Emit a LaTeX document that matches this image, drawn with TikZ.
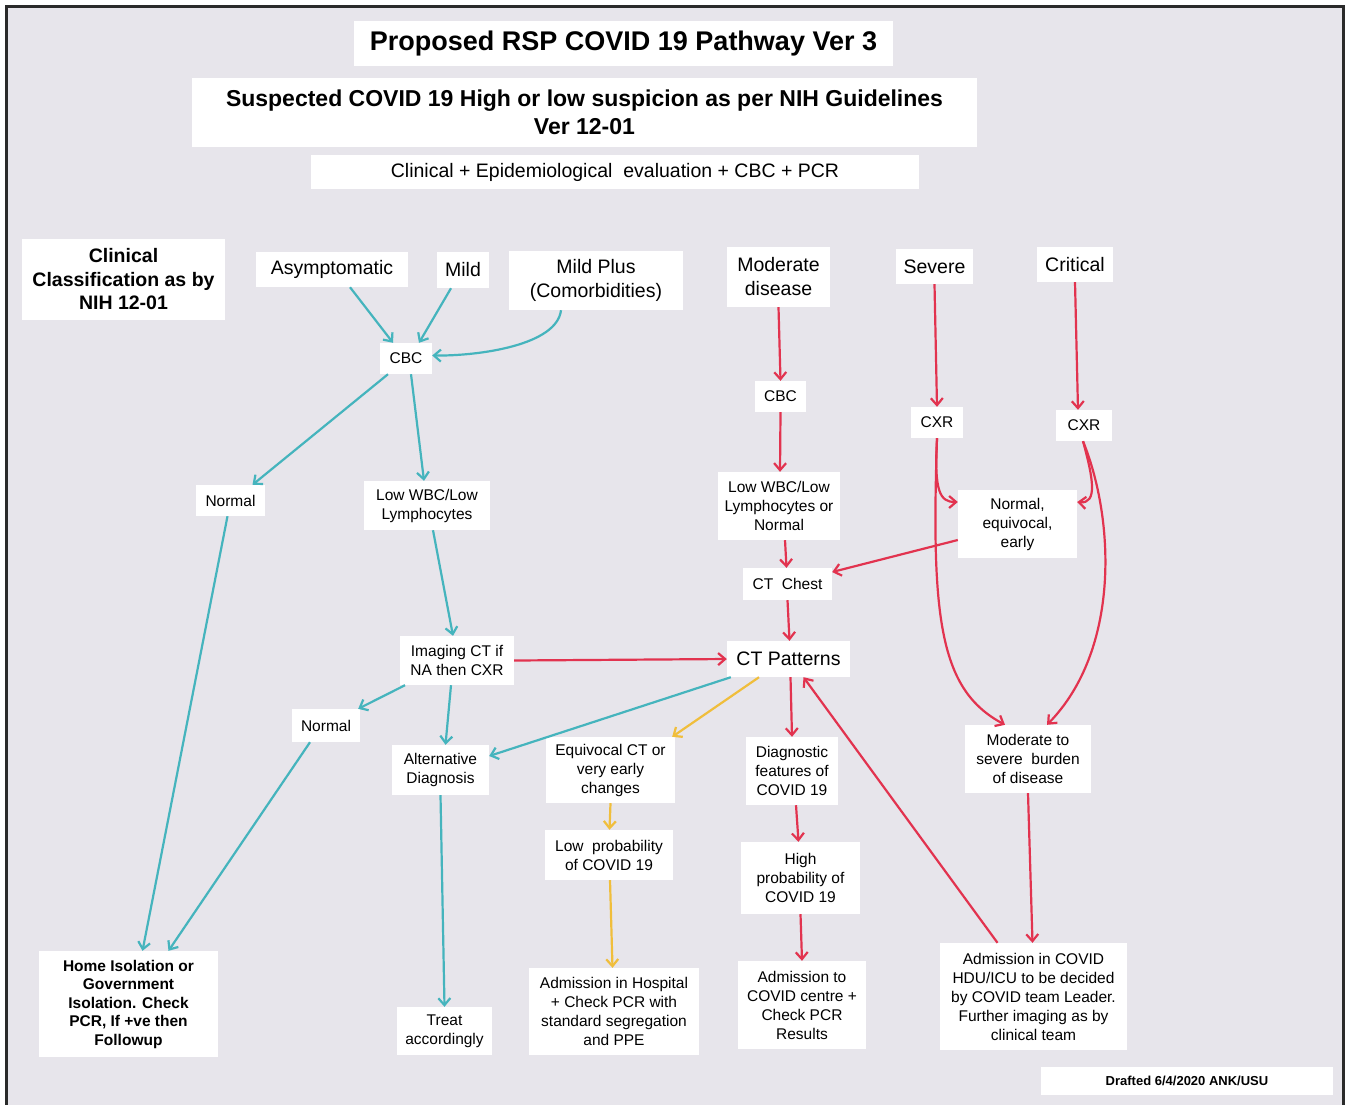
\documentclass[tikz,border=0pt]{standalone}
\usepackage{fontspec}
\setmainfont{Liberation Sans}
\usetikzlibrary{arrows.meta}
\definecolor{bgc}{HTML}{E7E5EB}
\definecolor{frm}{HTML}{2A2A2A}
\definecolor{tealc}{HTML}{45B4BD}
\definecolor{redc}{HTML}{E2334F}
\definecolor{yelc}{HTML}{F0BE3C}
\tikzset{
  box/.style={fill=white, inner sep=0pt, align=center, text=black},
  fT/.style={font=\fontsize{27}{32}\selectfont\bfseries},
  fSub/.style={font=\fontsize{23}{28}\selectfont\bfseries},
  fL/.style={font=\fontsize{19.5}{24}\selectfont},
  fLB/.style={font=\fontsize{19.5}{23.5}\selectfont\bfseries},
  fS/.style={font=\fontsize{15.5}{19}\selectfont},
  fSB/.style={font=\fontsize{15.5}{18.5}\selectfont\bfseries},
  fXS/.style={font=\fontsize{13}{15}\selectfont\bfseries},
  tip/.style={-{Straight Barb[length=7pt,width=12pt,line width=2.2pt]}},
  tl/.style={draw=tealc, line width=2.2pt, tip},
  rd/.style={draw=redc, line width=2.2pt, tip},
  yl/.style={draw=yelc, line width=2.2pt, tip},
}
\begin{document}
\begin{tikzpicture}[x=1pt,y=-1pt]
\useasboundingbox (0,0) rectangle (1348,1104);
\fill[white] (0,0) rectangle (1348,1104);
\draw[frm, line width=3pt, fill=bgc] (6.5,6.5) rectangle (1343.5,1112);

% header
\node[box,fT,minimum width=539pt,minimum height=45pt] (title) at (623.5,43.5) {Proposed RSP COVID 19 Pathway Ver 3};
\node[box,fSub,minimum width=785pt,minimum height=69pt] (sub) at (584.5,112.5) {Suspected COVID 19 High or low suspicion as per NIH Guidelines\\Ver 12-01};
\node[box,fL,minimum width=608pt,minimum height=34pt] (eval) at (615,172) {Clinical + Epidemiological\ \ evaluation + CBC + PCR};

% classification row
\node[box,fLB,minimum width=203pt,minimum height=81pt] (clin) at (123.5,279.5) {Clinical\\Classification as by\\NIH 12-01};
\node[box,fL,minimum width=152pt,minimum height=35pt] (asym) at (332,269.5) {Asymptomatic};
\node[box,fL,minimum width=52pt,minimum height=36pt] (mild) at (463,270) {Mild};
\node[box,fL,minimum width=174pt,minimum height=59pt] (mplus) at (596,280.5) {Mild Plus\\(Comorbidities)};
\node[box,fL,minimum width=103pt,minimum height=60pt] (mod) at (778.5,277) {Moderate\\disease};
\node[box,fL,minimum width=77pt,minimum height=35pt] (sev) at (934.5,266.5) {Severe};
\node[box,fL,minimum width=76pt,minimum height=35pt] (crit) at (1075,264.5) {Critical};

% second level
\node[box,fS,minimum width=52pt,minimum height=31pt] (cbca) at (406,358.5) {CBC};
\node[box,fS,minimum width=51pt,minimum height=31pt] (cbcb) at (780.5,396.5) {CBC};
\node[box,fS,minimum width=52pt,minimum height=31pt] (cxra) at (937,422.5) {CXR};
\node[box,fS,minimum width=56pt,minimum height=31pt] (cxrb) at (1084,425.5) {CXR};

\node[box,fS,minimum width=69pt,minimum height=31pt] (norma) at (230.5,500.5) {Normal};
\node[box,fS,minimum width=126pt,minimum height=49pt] (lowa) at (427,505.5) {Low WBC/Low\\Lymphocytes};
\node[box,fS,minimum width=122pt,minimum height=68pt] (lowb) at (779,506) {Low WBC/Low\\Lymphocytes or\\Normal};
\node[box,fS,minimum width=119pt,minimum height=68pt] (neq) at (1017.5,524) {Normal,\\equivocal,\\early};
\node[box,fS,minimum width=89pt,minimum height=32pt] (ctc) at (787.5,584) {CT\ \ Chest};
\node[box,fL,minimum width=123pt,minimum height=36pt] (ctp) at (788.5,659) {CT Patterns};
\node[box,fS,minimum width=114pt,minimum height=49pt] (img) at (457,660.5) {Imaging CT if\\NA then CXR};
\node[box,fS,minimum width=68pt,minimum height=33pt] (normb) at (326,725.5) {Normal};
\node[box,fS,minimum width=97pt,minimum height=50pt] (alt) at (440.5,770) {Alternative\\Diagnosis};
\node[box,fS,minimum width=129pt,minimum height=66pt] (equ) at (610.5,770) {Equivocal CT or\\very early\\changes};
\node[box,fS,minimum width=92pt,minimum height=68pt] (diag) at (792,771) {Diagnostic\\features of\\COVID 19};
\node[box,fS,minimum width=126pt,minimum height=68pt] (msb) at (1028,759) {Moderate to\\severe\ \ burden\\of disease};
\node[box,fS,minimum width=128pt,minimum height=50pt] (lowp) at (609,855) {Low\ \ probability\\of COVID 19};
\node[box,fS,minimum width=119pt,minimum height=72pt] (highp) at (800.5,878) {High\\probability of\\COVID 19};

% bottom row
\node[box,fSB,minimum width=179pt,minimum height=106pt] (home) at (128.5,1004) {Home Isolation or\\Government\\Isolation. Check\\PCR, If +ve then\\Followup};
\node[box,fS,minimum width=95pt,minimum height=48pt] (treat) at (444.5,1031) {Treat\\accordingly};
\node[box,fS,minimum width=170pt,minimum height=87pt] (adh) at (614,1011.5) {Admission in Hospital\\+ Check PCR with\\standard segregation\\and PPE};
\node[box,fS,minimum width=128pt,minimum height=88pt] (adc) at (802,1005) {Admission to\\COVID centre +\\Check PCR\\Results};
\node[box,fS,minimum width=187pt,minimum height=107pt] (adi) at (1033.5,996.5) {Admission in COVID\\HDU/ICU to be decided\\by COVID team Leader.\\Further imaging as by\\clinical team};
\node[box,fXS,minimum width=292pt,minimum height=28pt] (draft) at (1187,1081) {Drafted 6/4/2020 ANK/USU};

% teal connectors
\draw[tl] ([xshift=18pt]asym.south) -- ([xshift=-13pt]cbca.north);
\draw[tl] ([xshift=-12pt]mild.south) -- ([xshift=13pt]cbca.north);
\draw[tl] ([xshift=-35pt]mplus.south) .. controls (557,345) and (480,356) .. ([yshift=3pt]cbca.east);
\draw[tl] ([xshift=-18pt]cbca.south) -- ([xshift=22pt]norma.north);
\draw[tl] ([xshift=5pt]cbca.south) -- ([xshift=-3pt]lowa.north);
\draw[tl] ([xshift=-3pt]norma.south) -- ([xshift=14pt]home.north);
\draw[tl] ([xshift=6pt]lowa.south) -- ([xshift=-4pt]img.north);
\draw[tl] ([xshift=-52pt]img.south) -- ([xshift=-2pt]normb.north east);
\draw[tl] ([xshift=-6pt]img.south) -- ([xshift=5pt]alt.north);
\draw[tl] ([xshift=-16pt]normb.south) -- ([xshift=40pt]home.north);
\draw[tl] (alt.south) -- (treat.north);
\draw[tl] ([xshift=4pt]ctp.south west) -- ([yshift=14pt]alt.east);

% yellow connectors
\draw[yl] ([xshift=-29.5pt]ctp.south) -- ([xshift=-3pt]equ.north east);
\draw[yl] (equ.south) -- ([xshift=0.5pt]lowp.north);
\draw[yl] ([xshift=1pt]lowp.south) -- ([xshift=-1.5pt]adh.north);

% red connectors
\draw[rd] (img.east) -- (ctp.west);
\draw[rd] (mod.south) -- (cbcb.north);
\draw[rd] (cbcb.south) -- ([xshift=1pt]lowb.north);
\draw[rd] ([xshift=6pt]lowb.south) -- ([xshift=-1pt]ctc.north);
\draw[rd] ([yshift=-16pt]neq.west) -- ([yshift=12pt]ctc.east);
\draw[rd] (ctc.south) -- ([xshift=1pt]ctp.north);
\draw[rd] (sev.south) -- (cxra.north);
\draw[rd] (crit.south) -- ([xshift=-6pt]cxrb.north);
\draw[rd] (cxra.south) .. controls (934,492) and (940,502) .. ([yshift=22pt]neq.west);
\draw[rd] (cxra.south) .. controls (931,620) and (940,690) .. ([xshift=-23pt]msb.north);
\draw[rd] ([xshift=-1pt]cxrb.south) .. controls (1093,478) and (1098,504) .. ([yshift=22pt]neq.east);
\draw[rd] ([xshift=-1pt]cxrb.south) .. controls (1115,520) and (1120,650) .. ([xshift=19pt]msb.north);
\draw[rd] ([xshift=2pt]ctp.south) -- (diag.north);
\draw[rd] ([xshift=4pt]diag.south) -- ([xshift=-2pt]highp.north);
\draw[rd] (highp.south) -- (adc.north);
\draw[rd] (msb.south) -- ([xshift=-1pt]adi.north);
\draw[rd] ([xshift=-36pt]adi.north) -- ([xshift=15pt]ctp.south);
\end{tikzpicture}
\end{document}
